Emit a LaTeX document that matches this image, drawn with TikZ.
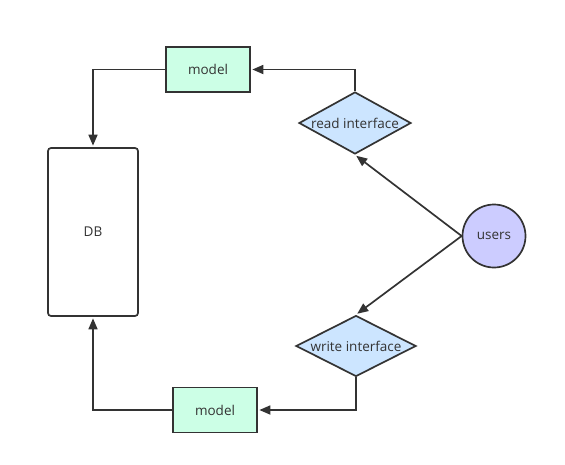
\documentclass[tikz,border=0pt]{standalone}
\usepackage{fontspec}
\setmainfont{Open Sans}
\usetikzlibrary{shapes.geometric,arrows.meta}
\definecolor{linegray}{HTML}{333333}
\definecolor{mint}{HTML}{CCFFE6}
\definecolor{skyblue}{HTML}{CCE5FF}
\definecolor{lilac}{HTML}{CCCCFF}
\tikzset{
    box/.style={draw=linegray, line width=1.7pt, fill=mint, minimum width=84pt, minimum height=45pt, inner sep=0pt},
    store/.style={draw=linegray, line width=1.7pt, rounded corners=3pt, minimum width=90pt, minimum height=168pt, inner sep=0pt},
    gate/.style={diamond, draw=linegray, line width=1.7pt, fill=skyblue, aspect=1.8, inner sep=0pt},
    actor/.style={circle, draw=linegray, line width=1.7pt, fill=lilac, minimum size=63pt, inner sep=0pt},
    flow/.style={draw=linegray, line width=1.7pt, -{Triangle[length=11pt,width=9pt]}, shorten >=1.5pt},
}

\begin{document}
\begin{tikzpicture}[x=1pt, y=-1pt, font=\fontsize{13.5}{15}\selectfont, text=linegray]
    \useasboundingbox (0,0) rectangle (565,464);
    \node[store] (DB) at (93,232) {DB};
    \node[box] (topmodel) at (208,69.5) {model};
    \node[box] (botmodel) at (215,410) {model};
    \node[gate, minimum width=112pt, minimum height=62pt] (read) at (355,123) {read interface};
    \node[gate, minimum width=120pt, minimum height=60pt] (write) at (356,346) {write interface};
    \node[actor] (users) at (494,236) {users};
    \draw[flow] (read.north) |- (topmodel.east);
    \draw[flow] (topmodel.west) -| (DB.north);
    \draw[flow] (users.west) -- (read.south);
    \draw[flow] (users.west) -- (write.north);
    \draw[flow] (write.south) |- (botmodel.east);
    \draw[flow] (botmodel.west) -| (DB.south);
\end{tikzpicture}
\end{document}
